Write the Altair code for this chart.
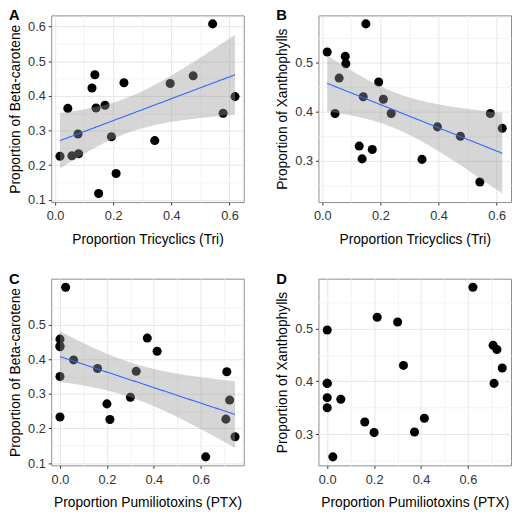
import json
import altair as alt
import numpy as np
import pandas as pd

# Per-frog values (19 frogs)
tri = [0.017, 0.044, 0.058, 0.081, 0.079, 0.127, 0.137, 0.141, 0.150, 0.172,
       0.194, 0.210, 0.237, 0.343, 0.396, 0.475, 0.542, 0.578, 0.619]
ptx = [0.213, 0.711, 0.707, 0.000, 0.300, 0.414, 0.372, 0.325, 0.621, 0.160,
       0.723, 0.746, 0.000, 0.200, 0.000, 0.000, 0.024, 0.000, 0.058]
beta = [0.226, 0.364, 0.227, 0.233, 0.290, 0.423, 0.461, 0.365, 0.118, 0.373,
        0.282, 0.176, 0.438, 0.271, 0.436, 0.458, 0.608, 0.350, 0.398]
xan = [0.521, 0.396, 0.468, 0.497, 0.512, 0.330, 0.304, 0.430, 0.578, 0.323,
       0.460, 0.425, 0.396, 0.303, 0.369, 0.350, 0.257, 0.396, 0.366]

x_ticks = [0.0, 0.2, 0.4, 0.6]
x_minor = [0.1, 0.3, 0.5, 0.7]
y_ticks_beta_top = [0.1, 0.2, 0.3, 0.4, 0.5, 0.6]
y_ticks_beta_bottom = [0.1, 0.2, 0.3, 0.4, 0.5]
y_minor_beta = [0.15, 0.25, 0.35, 0.45, 0.55]
y_ticks_xan = [0.3, 0.4, 0.5]
y_minor_xan = [0.25, 0.35, 0.45, 0.55]

df = pd.DataFrame({"tri": tri, "ptx": ptx, "beta": beta, "xan": xan})

FONT = "Liberation Sans"
W, H = 196, 190
MAJOR_GRID = "#e6e6e6"
MINOR_GRID = "#f3f3f3"


def smooth(x, y, n=120):
    x = np.asarray(x, float)
    y = np.asarray(y, float)
    b, a = np.polyfit(x, y, 1)
    xs = np.linspace(x.min(), x.max(), n)
    fit = a + b * xs
    resid = y - (a + b * x)
    s = np.sqrt((resid ** 2).sum() / (len(x) - 2))
    se = s * np.sqrt(1 / len(x) + (xs - x.mean()) ** 2 / ((x - x.mean()) ** 2).sum())
    t = 2.1098  # t(0.975, df=17)
    return pd.DataFrame({"x": xs, "fit": fit, "lo": fit - t * se, "hi": fit + t * se})


def expand(lo, hi):
    r = hi - lo
    return [lo - 0.05 * r, hi + 0.05 * r]


def make_axis(major, minor, title, dom, is_x):
    lo, hi = dom
    vals = sorted([v for v in major + minor if lo <= v <= hi])
    test = f"indexof({json.dumps(major)}, datum.value) >= 0"
    kw = dict(labelPadding=5, titlePadding=10) if is_x else dict(labelPadding=3, titlePadding=5)
    return alt.Axis(
        values=vals,
        format=".1f",
        title=title,
        labelExpr=f"{test} ? datum.label : ''",
        gridColor={"condition": {"test": test, "value": MAJOR_GRID}, "value": MINOR_GRID},
        tickOpacity={"condition": {"test": test, "value": 1}, "value": 0},
        **kw,
    )


def panel(xcol, ycol, xtitle, ytitle, letter, yticks, yminor, with_fit):
    fitdf = smooth(df[xcol], df[ycol]) if with_fit else None
    ymin, ymax = df[ycol].min(), df[ycol].max()
    if with_fit:
        ymin = min(ymin, fitdf["lo"].min())
        ymax = max(ymax, fitdf["hi"].max())
    xdom = expand(df[xcol].min(), df[xcol].max())
    ydom = expand(ymin, ymax)
    xs = alt.Scale(domain=xdom, nice=False, zero=False)
    ys = alt.Scale(domain=ydom, nice=False, zero=False)
    xax = make_axis(x_ticks, x_minor, xtitle, xdom, True)
    yax = make_axis(yticks, yminor, ytitle, ydom, False)

    pts = alt.Chart(df).mark_circle(size=85, opacity=1, color="black").encode(
        x=alt.X(f"{xcol}:Q", scale=xs, axis=xax),
        y=alt.Y(f"{ycol}:Q", scale=ys, axis=yax),
    )
    layers = [pts]
    if with_fit:
        band = alt.Chart(fitdf).mark_area(color="#999999", opacity=0.4).encode(
            x=alt.X("x:Q", scale=xs, axis=xax),
            y=alt.Y("lo:Q", scale=ys, axis=yax),
            y2="hi:Q",
        )
        line = alt.Chart(fitdf).mark_line(color="#3366FF", strokeWidth=1.1).encode(
            x=alt.X("x:Q", scale=xs, axis=xax),
            y=alt.Y("fit:Q", scale=ys, axis=yax),
        )
        layers += [band, line]
    tag = alt.Chart(pd.DataFrame({"t": [letter]})).mark_text(
        align="left", baseline="alphabetic", fontSize=15, fontWeight="bold",
        font=FONT, color="black",
    ).encode(x=alt.value(-43), y=alt.value(5), text="t:N")
    layers.append(tag)
    return alt.layer(*layers).properties(width=W, height=H)


A = panel("tri", "beta", "Proportion Tricyclics (Tri)", "Proportion of Beta-carotene",
          "A", y_ticks_beta_top, y_minor_beta, True)
B = panel("tri", "xan", "Proportion Tricyclics (Tri)", "Proportion of Xanthophylls",
          "B", y_ticks_xan, y_minor_xan, True)
C = panel("ptx", "beta", "Proportion Pumiliotoxins (PTX)", "Proportion of Beta-carotene",
          "C", y_ticks_beta_bottom, y_minor_beta, True)
D = panel("ptx", "xan", "Proportion Pumiliotoxins (PTX)", "Proportion of Xanthophylls",
          "D", y_ticks_xan, y_minor_xan, False)

chart = alt.concat(A, B, C, D, columns=2, spacing={"row": 24, "column": 31}).properties(
    padding={"top": -5, "left": 0, "right": 0, "bottom": 0}, background="white"
).configure_view(
    stroke="#8c8c8c", strokeWidth=1
).configure_axis(
    domain=False,
    grid=True,
    gridWidth=1,
    tickColor="#333333",
    tickSize=3,
    tickWidth=1,
    labelColor="#333333",
    labelFont=FONT,
    labelFontSize=13,
    titleFont=FONT,
    titleFontSize=14,
    titleFontWeight="normal",
    titleColor="black",
)

chart.save("out.html", embed_options={"renderer": "svg", "actions": False})
